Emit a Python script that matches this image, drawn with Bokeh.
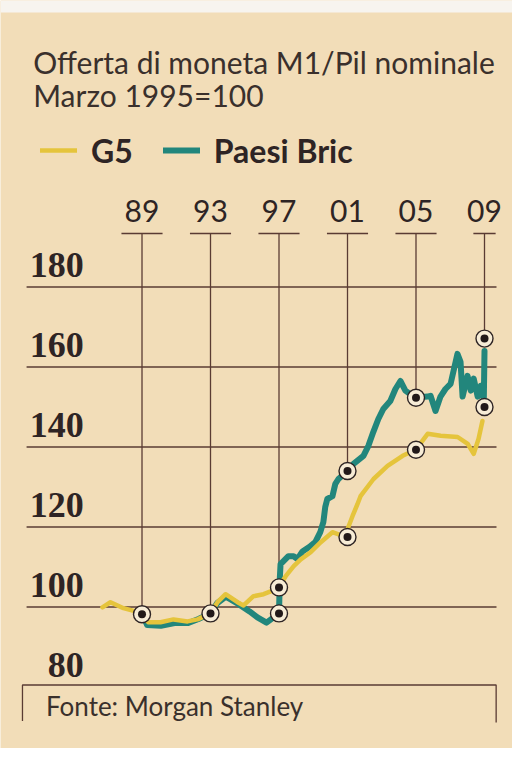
from bokeh.plotting import figure
from bokeh.models import Label, Legend, LegendItem, Range1d, BoxAnnotation
from bokeh.core.properties import value
from bokeh.embed import file_html
from bokeh.resources import INLINE

# ---------------- data ----------------
title_lines = ["Offerta di moneta M1/Pil nominale", "Marzo 1995=100"]
source_text = "Fonte: Morgan Stanley"
series_names = ["G5", "Paesi Bric"]

g5_years = [1986.69, 1987.16, 1987.92, 1988.62, 1989.38, 1990.08, 1990.84, 1991.66,
            1992.24, 1993.00, 1993.41, 1993.88, 1994.58, 1994.93, 1995.51, 1996.10,
            1996.51, 1996.98, 1997.39, 1997.86, 1998.27, 1998.85, 1999.44, 2000.12,
            2000.90, 2001.05, 2001.29, 2001.58, 2001.76, 2002.52, 2003.34, 2004.22,
            2004.98, 2005.68, 2006.44, 2007.43, 2008.02, 2008.37, 2008.65, 2008.88]
g5_values = [99.9, 101.2, 99.7, 98.9, 96.2, 96.2, 96.9, 96.4,
             96.9, 98.4, 101.2, 103.2, 101.2, 100.4, 102.7, 103.2,
             103.9, 104.9, 107.7, 110.2, 111.9, 113.7, 116.2, 118.7,
             117.5, 120.0, 122.7, 125.7, 127.7, 132.0, 135.3, 137.8,
             139.3, 143.3, 142.8, 142.5, 140.8, 138.3, 142.0, 146.5]

bric_years = [1989.03, 1989.30, 1990.10, 1990.90, 1991.70, 1992.30, 1993.00, 1993.40,
              1993.90, 1994.60, 1995.28, 1995.74, 1996.27, 1997.00, 1997.05, 1997.09,
              1997.55, 1997.85, 1998.08, 1998.37, 1998.83, 1999.12, 1999.41, 1999.59,
              1999.70, 1999.82, 2000.12, 2000.29, 2000.47, 2001.00, 2001.35, 2001.93,
              2002.22, 2002.51, 2002.80, 2003.09, 2003.50, 2003.80, 2004.09, 2004.38,
              2004.96, 2005.67, 2005.85, 2006.14, 2006.43, 2006.72, 2007.02, 2007.42,
              2007.60, 2007.72, 2008.01, 2008.20, 2008.37, 2008.60, 2008.78, 2008.96,
              2009.00]
bric_values = [98.2, 95.5, 95.3, 96.0, 96.0, 97.0, 98.4, 101.0,
               102.6, 100.8, 98.9, 97.4, 96.1, 98.4, 107.4, 110.7,
               112.7, 112.7, 112.0, 113.9, 115.2, 116.2, 118.7, 121.2,
               125.0, 127.0, 127.7, 130.8, 132.0, 134.0, 135.8, 137.8,
               140.3, 143.8, 147.0, 149.5, 151.5, 154.5, 156.5, 154.1,
               152.3, 152.6, 152.8, 149.0, 152.6, 154.5, 155.8, 163.3,
               161.3, 152.6, 157.8, 154.1, 157.1, 152.6, 155.3, 152.0,
               164.0]

marker_years = [1989, 1993, 1997, 1997, 2001, 2001, 2005, 2005, 2009, 2009]
marker_values = [98.2, 98.4, 104.9, 98.4, 117.5, 134.0, 139.3, 152.3, 150.0, 167.1]

year_ticks = [1989, 1993, 1997, 2001, 2005, 2009]
year_tick_labels = ["89", "93", "97", "01", "05", "09"]
value_ticks = [80, 100, 120, 140, 160, 180]
value_tick_labels = ["80", "100", "120", "140", "160", "180"]
grid_values = [100, 120, 140, 160, 180]

# ---------------- layout / style ----------------
W, H = 512, 748
BG = "#f2ddb8"
INK = "#2e2424"
RULE = "#5a3b33"
G5_COLOR = "#e5c43c"
BRIC_COLOR = "#22867c"

TOP = 193.4            # level of the tick bars
GRID_X0, GRID_X1 = 1982.26, 2009.70
LABEL_X = 1985.60
BOX_X0, BOX_X1 = 1982.02, 2009.68
BOX_TOP, BOX_BOT_L, BOX_BOT_R = 80.5, 71.5, 71.1
PAPER_EDGE = 248.6
bar_half = [1.2, 1.2, 1.2, 1.2, 1.2, 0.65]

p = figure(width=W, height=H, x_range=Range1d(1980.737, 2010.635),
           y_range=Range1d(64.625, 251.625), x_axis_type=None, y_axis_type=None,
           min_border=0, toolbar_location=None, output_backend="svg")
p.background_fill_color = BG
p.border_fill_color = BG
p.outline_line_color = None

# light torn paper edge at the top
p.add_layout(BoxAnnotation(bottom=PAPER_EDGE, fill_color="#f7f4ef", fill_alpha=1,
                           line_color=None, level="underlay"))

# horizontal grid lines
p.segment(x0=[GRID_X0] * len(grid_values), x1=[GRID_X1] * len(grid_values),
          y0=grid_values, y1=grid_values, line_color=RULE, line_width=1.3)

# source box
p.line(x=[BOX_X0, BOX_X0, BOX_X1, BOX_X1], y=[BOX_BOT_L, BOX_TOP, BOX_TOP, BOX_BOT_R],
       line_color=RULE, line_width=1.3)

# vertical drop lines from the tick bars to the markers
drop_bottom = [max(v for yr, v in zip(marker_years, marker_values) if yr == t) for t in year_ticks]
p.segment(x0=year_ticks, x1=year_ticks, y0=[TOP] * len(year_ticks), y1=drop_bottom,
          line_color=RULE, line_width=1.3)
p.segment(x0=[t - h for t, h in zip(year_ticks, bar_half)],
          x1=[t + h for t, h in zip(year_ticks, bar_half)],
          y0=[TOP] * len(year_ticks), y1=[TOP] * len(year_ticks),
          line_color=RULE, line_width=1.5)

# series
r_bric = p.line(bric_years, bric_values, line_color=BRIC_COLOR, line_width=6,
                line_join="round", line_cap="round")
r_g5 = p.line(g5_years, g5_values, line_color=G5_COLOR, line_width=4.5,
              line_join="round", line_cap="round")

# markers
p.scatter(marker_years, marker_values, size=17, fill_color="#f7ecd6",
          line_color=INK, line_width=1.4)
p.scatter(marker_years, marker_values, size=8, fill_color="#221919", line_color=None)

# axis labels (negative y_offset lifts the text above its rule)
p.text(x=[LABEL_X] * len(value_ticks), y=value_ticks, text=value_tick_labels,
       text_align="right", text_baseline="alphabetic", y_offset=-22,
       text_font=value("Liberation Serif"), text_font_style="bold",
       text_font_size="36px", text_color=INK)
p.text(x=year_ticks, y=[TOP] * len(year_ticks), text=year_tick_labels,
       text_align="center", text_baseline="alphabetic", y_offset=-22.5,
       text_font=value("Lato"), text_font_size="30px", text_color=INK)

# titles
p.add_layout(Label(x=32.7, y=H - 61.4, x_units="screen", y_units="screen",
                   text=title_lines[0], text_font="Lato", text_font_size="30px",
                   text_color="#3a302c", text_baseline="alphabetic"))
p.add_layout(Label(x=32.7, y=H - 94, x_units="screen", y_units="screen",
                   text=title_lines[1], text_font="Lato", text_font_size="30px",
                   text_color="#3a302c", text_baseline="alphabetic"))
p.add_layout(Label(x=45.5, y=H - 705.5, x_units="screen", y_units="screen",
                   text=source_text, text_font="Lato", text_font_size="26px",
                   text_color="#3a302c", text_baseline="alphabetic"))

# legend
legend = Legend(items=[LegendItem(label=series_names[0], renderers=[r_g5]),
                       LegendItem(label=series_names[1], renderers=[r_bric])],
                orientation="horizontal", location=(40, H - 170),
                glyph_width=37, glyph_height=40, label_height=40,
                label_standoff=14, spacing=30,
                padding=0, margin=0, border_line_color=None, background_fill_alpha=0,
                label_text_font="Lato", label_text_font_style="bold",
                label_text_font_size="32px", label_text_color=INK)
p.add_layout(legend)

open("out.html", "w").write(file_html(p, INLINE))
